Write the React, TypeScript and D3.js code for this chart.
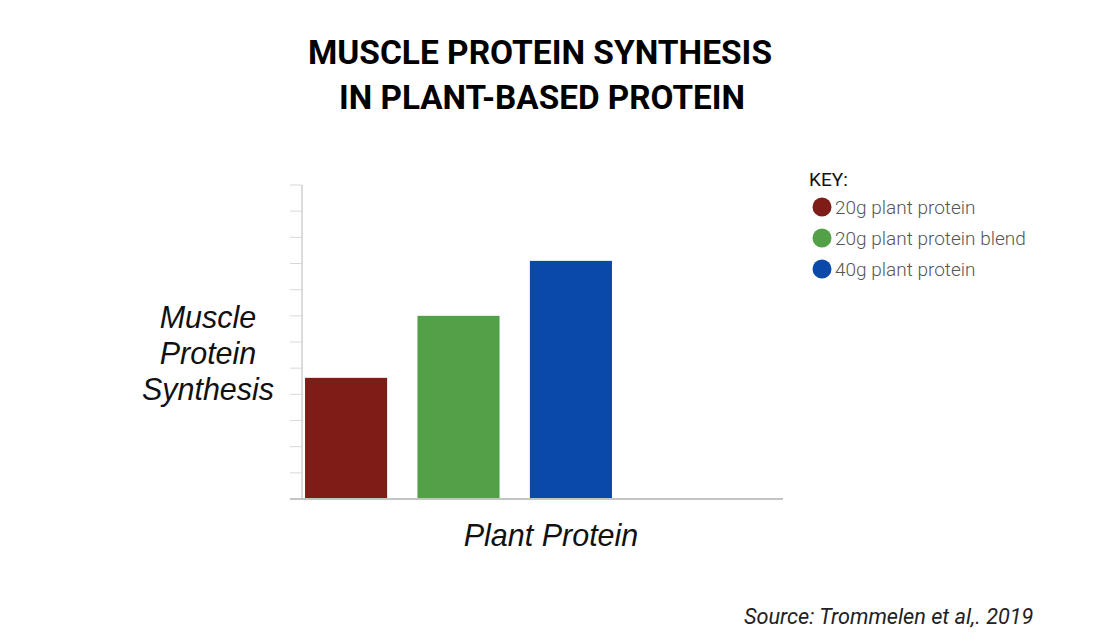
import React from "react";
import * as d3 from "d3";

const categories = ["20g plant protein", "20g plant protein blend", "40g plant protein"];
const values = [4.63, 7.0, 9.1];
const colors = ["#7E1D18", "#52A047", "#0B49A8"];
const yTicks = d3.range(0, 13);
const titleLines = ["MUSCLE PROTEIN SYNTHESIS", "IN PLANT-BASED PROTEIN"];
const yLabelLines = ["Muscle", "Protein", "Synthesis"];
const xLabel = "Plant Protein";
const source = "Source: Trommelen et al,. 2019";

export default function App() {
  const W = 1097, H = 643;
  const y = d3.scaleLinear().domain([0, 12]).range([499, 185]);
  const x = d3.scaleBand<string>().domain(categories).range([302, 615]).paddingInner(0.27).paddingOuter(0.027);
  const axisX = 302;
  return (
    <svg width={W} height={H} style={{ position: "absolute", left: 0, top: 0, background: "#fff" }}>
      <text x={540} y={64} textAnchor="middle" fontFamily="Roboto, sans-serif" fontWeight={700} fontSize={34} textLength={464} lengthAdjust="spacingAndGlyphs" fill="#000">{titleLines[0]}</text>
      <text x={542} y={109} textAnchor="middle" fontFamily="Roboto, sans-serif" fontWeight={700} fontSize={34} textLength={406} lengthAdjust="spacingAndGlyphs" fill="#000">{titleLines[1]}</text>

      {/* y axis */}
      <line x1={axisX} x2={axisX} y1={y(12)} y2={y(0)} stroke="#cfcfcf" strokeWidth={1.5} />
      {yTicks.map((t) => (
        <line key={t} x1={290} x2={axisX} y1={y(t)} y2={y(t)} stroke="#d8d8d8" strokeWidth={1} />
      ))}

      {/* bars */}
      {categories.map((c, i) => (
        <rect key={c} x={x(c)} y={y(values[i])} width={x.bandwidth()} height={y(0) - y(values[i])} fill={colors[i]} />
      ))}

      {/* x axis */}
      <line x1={290} x2={783} y1={y(0)} y2={y(0)} stroke="#c4c4c4" strokeWidth={2} />

      {/* y label */}
      {yLabelLines.map((l, i) => (
        <text key={l} x={208} y={328 + i * 36} textAnchor="middle" fontFamily="'Liberation Sans', Arial, sans-serif" fontStyle="italic" fontSize={30.5} fill="#111">{l}</text>
      ))}
      <text x={551} y={546} textAnchor="middle" fontFamily="'Liberation Sans', Arial, sans-serif" fontStyle="italic" fontSize={30.5} fill="#111">{xLabel}</text>

      {/* legend */}
      <text x={809} y={186} fontFamily="Roboto, sans-serif" fontSize={19} fill="#111">KEY:</text>
      {categories.map((c, i) => (
        <g key={c}>
          <circle cx={822} cy={207 + i * 31} r={9.5} fill={colors[i]} />
          <text x={835} y={213.5 + i * 31} fontFamily="Roboto, sans-serif" fontWeight={300} fontSize={19} fill="#555">{c}</text>
        </g>
      ))}

      <text x={744} y={624} fontFamily="Roboto, sans-serif" fontStyle="italic" fontSize={21.7} fill="#222">{source}</text>
    </svg>
  );
}
